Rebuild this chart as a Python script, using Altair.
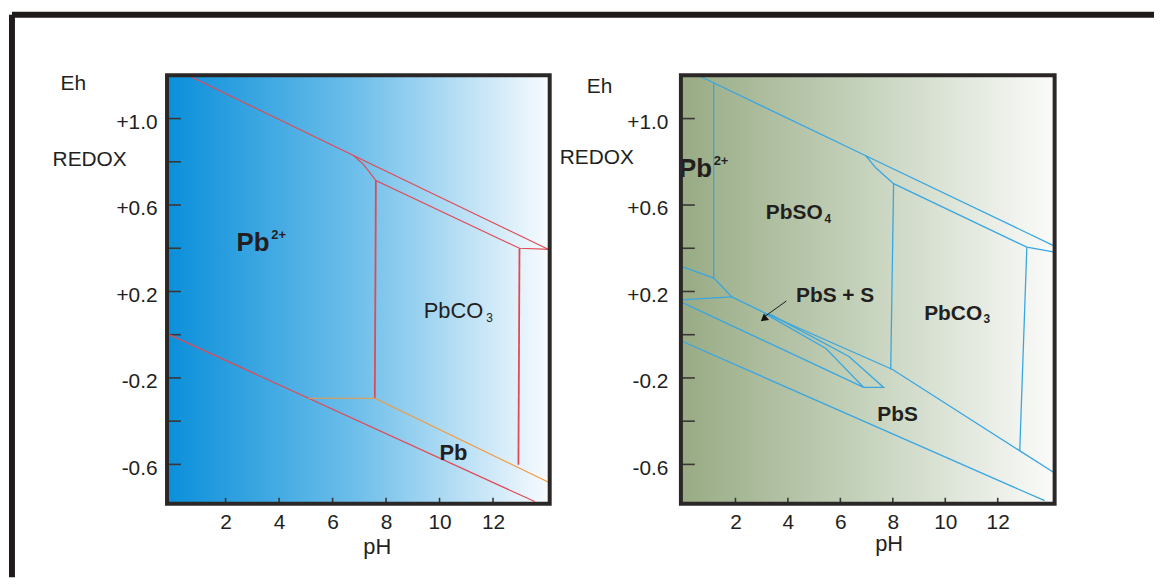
import altair as alt
import pandas as pd

FONT = "Liberation Sans"
INK = "#231f20"

# ---------------- axes ----------------
left_ph_domain = [-0.19, 14.12]
right_ph_domain = [-0.08, 14.17]
eh_domain = [-0.782, 1.2]
ph_ticks = [2, 4, 6, 8, 10, 12]
eh_ticks = [1.0, 0.8, 0.6, 0.4, 0.2, 0.0, -0.2, -0.4, -0.6]
eh_labelled = [1.0, 0.6, 0.2, -0.2, -0.6]

# ---------------- left panel: Pb - C - O - H ----------------
l_upper_ph = [0.51, 6.80, 14.12]
l_upper_eh = [1.205, 0.828, 0.392]
l_second_ph = [6.80, 7.17, 7.62, 12.99, 14.12]
l_second_eh = [0.828, 0.786, 0.713, 0.400, 0.395]
l_vert1_ph = [7.62, 7.58]
l_vert1_eh = [0.713, -0.294]
l_vert2_ph = [12.99, 12.95]
l_vert2_eh = [0.400, -0.602]
l_lower_ph = [-0.19, 13.56]
l_lower_eh = [0.005, -0.772]
l_pb_top_ph = [5.10, 7.58]
l_pb_top_eh = [-0.294, -0.294]
l_pb_slope_ph = [7.58, 14.12]
l_pb_slope_eh = [-0.294, -0.685]

l_axis_text = ["Eh", "REDOX"]
l_axis_ph = [-4.17, -4.47]
l_axis_eh = [1.159, 0.809]
l_big_text = ["Pb"]
l_big_ph = [2.41]
l_big_eh = [0.423]
l_sup_text = ["2+"]
l_sup_ph = [3.71]
l_sup_eh = [0.46]
l_plain_text = ["PbCO"]
l_plain_ph = [10.52]
l_plain_eh = [0.110]
l_sub_text = ["3"]
l_sub_ph = [11.75]
l_sub_eh = [0.078]
l_bold_text = ["Pb"]
l_bold_ph = [10.52]
l_bold_eh = [-0.547]

# ---------------- right panel: Pb - S - C - O - H ----------------
r_upper_ph = [0.49, 6.97, 14.17]
r_upper_eh = [1.205, 0.828, 0.410]
r_second_ph = [6.97, 7.35, 8.03, 13.11, 14.17]
r_second_eh = [0.828, 0.772, 0.699, 0.405, 0.382]
r_vmid_ph = [8.03, 7.92]
r_vmid_eh = [0.699, -0.161]
r_vright_ph = [13.11, 12.84]
r_vright_eh = [0.405, -0.538]
r_vleft_ph = [1.17, 1.17]
r_vleft_eh = [1.163, 0.262]
r_sulfate_ph = [-0.08, 1.17, 1.36, 1.86, 3.18, 7.99, 14.17]
r_sulfate_eh = [0.317, 0.262, 0.239, 0.175, 0.097, -0.161, -0.640]
r_shoriz_ph = [-0.08, 1.86]
r_shoriz_eh = [0.161, 0.175]
r_linec_ph = [-0.08, 6.89]
r_linec_eh = [0.152, -0.244]
r_sliver_ph = [3.10, 5.45, 6.89, 7.65, 6.33, 3.37, 3.10]
r_sliver_eh = [0.100, -0.064, -0.244, -0.244, -0.101, 0.092, 0.100]
r_lowest_ph = [-0.08, 13.79]
r_lowest_eh = [-0.028, -0.768]
r_arrow_ph = [3.94, 3.07]
r_arrow_eh = [0.156, 0.080]
r_head_ph = [3.11]
r_head_eh = [0.076]

r_axis_text = ["Eh", "REDOX"]
r_axis_ph = [-3.67, -4.70]
r_axis_eh = [1.145, 0.818]
r_big_text = ["Pb"]
r_big_ph = [-0.15]
r_big_eh = [0.768]
r_sup_text = ["2+"]
r_sup_ph = [1.17]
r_sup_eh = [0.805]
r_bold_text = ["PbSO", "PbS + S", "PbCO", "PbS"]
r_bold_ph = [4.24, 5.80, 10.30, 8.18]
r_bold_eh = [0.561, 0.179, 0.097, -0.372]
r_sub_text = ["4", "3"]
r_sub_ph = [5.40, 11.46]
r_sub_eh = [0.533, 0.074]


def seg_df(segs):
    rows = []
    for name, (ph, eh) in segs.items():
        for i, (p, e) in enumerate(zip(ph, eh)):
            rows.append({"seg": name, "i": i, "pH": p, "Eh": e})
    return pd.DataFrame(rows)


def txt_df(texts, ph, eh):
    return pd.DataFrame({"label": texts, "pH": ph, "Eh": eh})


def xenc(domain, tx, ty):
    return alt.X("pH:Q",
                 scale=alt.Scale(domain=domain, nice=False, zero=False),
                 axis=alt.Axis(values=ph_ticks, title="pH", titleX=tx, titleY=ty,
                               titleAlign="center", titleBaseline="alphabetic",
                               titleAngle=0, labelPadding=8, ticks=False,
                               domain=False, grid=False))


def yenc(pad):
    return alt.Y("Eh:Q",
                 scale=alt.Scale(domain=eh_domain, nice=False, zero=False),
                 axis=alt.Axis(values=eh_labelled, title=None,
                               labelExpr="(datum.value > 0 ? '+' : (datum.value < 0 ? '-' : '')) + format(abs(datum.value), '.1f')",
                               labelPadding=pad, labelOffset=4, ticks=False,
                               domain=False, grid=False))


def panel(domain, grad_stops, line_layers, text_layers, w, h, pad, tx, ty, extra=None):
    X = xenc(domain, tx, ty)
    Y = yenc(pad)
    box = pd.DataFrame({"pH": [domain[0]], "pH2": [domain[1]],
                        "Eh": [eh_domain[0]], "Eh2": [eh_domain[1]]})
    grad = alt.LinearGradient(gradient="linear", x1=0, x2=1, y1=0, y2=0,
                              stops=[alt.GradientStop(color=c, offset=o) for o, c in grad_stops])
    bg = alt.Chart(box).mark_rect(color=grad).encode(x=X, x2="pH2:Q", y=Y, y2="Eh2:Q")
    ytk = alt.Chart(pd.DataFrame({"Eh": eh_ticks})).mark_rule(
        color="#3a3636", strokeWidth=1.6).encode(
        y=Y, x=alt.value(0), x2=alt.value(14))
    xtk = alt.Chart(pd.DataFrame({"pH": ph_ticks})).mark_rule(
        color="#3a3636", strokeWidth=1.6).encode(
        x=X, y=alt.value(h), y2=alt.value(h - 6))
    layers = [bg, ytk, xtk]
    for df, color, sw in line_layers:
        layers.append(alt.Chart(df).mark_line(color=color, strokeWidth=sw).encode(
            x=X, y=Y, detail="seg:N", order="i:Q"))
    for df, size, weight, align in text_layers:
        layers.append(alt.Chart(df).mark_text(
            font=FONT, fontSize=size, fontWeight=weight, align=align,
            baseline="middle", color=INK).encode(x=X, y=Y, text="label:N"))
    if extra:
        layers.extend(extra(X, Y))
    border = alt.Chart(box).mark_rect(filled=False, stroke="#2b2727",
                                      strokeWidth=4).encode(x=X, x2="pH2:Q", y=Y, y2="Eh2:Q")
    layers.append(border)
    return layers


# ---------- left ----------
left_red = seg_df({
    "upper": (l_upper_ph, l_upper_eh),
    "second": (l_second_ph, l_second_eh),
    "lower": (l_lower_ph, l_lower_eh),
})
left_red_v = seg_df({
    "v1": (l_vert1_ph, l_vert1_eh),
    "v2": (l_vert2_ph, l_vert2_eh),
})
left_orange = seg_df({
    "top": (l_pb_top_ph, l_pb_top_eh),
    "slope": (l_pb_slope_ph, l_pb_slope_eh),
})

LW, LH = 385, 431
RW, RH = 376, 431


def frame(X, Y):
    one = alt.Data(values=[{"k": 1}])
    top = alt.Chart(one).mark_rule(color="#1f1b1b", strokeWidth=6).encode(
        x=alt.value(-156), x2=alt.value(993), y=alt.value(-61))
    side = alt.Chart(one).mark_rule(color="#1f1b1b", strokeWidth=6).encode(
        x=alt.value(-156), y=alt.value(-61), y2=alt.value(505))
    return [top, side]


left_layers = panel(
    left_ph_domain,
    [(0, "#0a8fda"), (0.5, "#6fbfea"), (1, "#f8fbfe")],
    [(left_red, "#e04a55", 1.2), (left_red_v, "#e04a55", 1.8), (left_orange, "#f2993e", 1.2)],
    [(txt_df(l_axis_text, l_axis_ph, l_axis_eh), 21, "normal", "left"),
     (txt_df(l_big_text, l_big_ph, l_big_eh), 26, "bold", "left"),
     (txt_df(l_sup_text, l_sup_ph, l_sup_eh), 13, "bold", "left"),
     (txt_df(l_plain_text, l_plain_ph, l_plain_eh), 22, "normal", "center"),
     (txt_df(l_sub_text, l_sub_ph, l_sub_eh), 12, "normal", "left"),
     (txt_df(l_bold_text, l_bold_ph, l_bold_eh), 22, "bold", "center")],
    LW, LH, 10, 211, 50, extra=frame)

# ---------- right ----------
right_blue = seg_df({
    "upper": (r_upper_ph, r_upper_eh),
    "second": (r_second_ph, r_second_eh),
    "vmid": (r_vmid_ph, r_vmid_eh),
    "vright": (r_vright_ph, r_vright_eh),
    "vleft": (r_vleft_ph, r_vleft_eh),
    "sulfate": (r_sulfate_ph, r_sulfate_eh),
    "shoriz": (r_shoriz_ph, r_shoriz_eh),
    "linec": (r_linec_ph, r_linec_eh),
    "sliver": (r_sliver_ph, r_sliver_eh),
    "lowest": (r_lowest_ph, r_lowest_eh),
})
arrow_df = seg_df({"arrow": (r_arrow_ph, r_arrow_eh)})
head_df = pd.DataFrame({"pH": r_head_ph, "Eh": r_head_eh})


def arrow(X, Y):
    shaft = alt.Chart(arrow_df).mark_line(color="#1a1a1a", strokeWidth=1).encode(
        x=X, y=Y, detail="seg:N", order="i:Q")
    head = alt.Chart(head_df).mark_point(shape="triangle", angle=231, filled=True,
                                         size=70, color="#111111", opacity=1).encode(x=X, y=Y)
    return [shaft, head]


right_layers = panel(
    right_ph_domain,
    [(0, "#98ab84"), (0.5, "#c6d3bd"), (1, "#fbfbfa")],
    [(right_blue, "#3aa6e0", 1.3)],
    [(txt_df(r_axis_text, r_axis_ph, r_axis_eh), 21, "normal", "left"),
     (txt_df(r_big_text, r_big_ph, r_big_eh), 26, "bold", "left"),
     (txt_df(r_sup_text, r_sup_ph, r_sup_eh), 13, "bold", "left"),
     (txt_df(r_bold_text, r_bold_ph, r_bold_eh), 21, "bold", "center"),
     (txt_df(r_sub_text, r_sub_ph, r_sub_eh), 12, "bold", "left")],
    RW, RH, 13, 209, 47, extra=arrow)

left = alt.layer(*left_layers).properties(width=LW, height=LH)
right = alt.layer(*right_layers).properties(width=RW, height=RH)

chart = alt.hconcat(left, right, spacing=132, bounds="flush").properties(
    padding={"left": 0, "top": 1, "right": 0, "bottom": 0},
    background="white",
).configure_view(stroke="transparent").configure_axis(
    labelFont=FONT, labelFontSize=21, labelColor=INK,
    titleFont=FONT, titleFontSize=22, titleFontWeight="normal", titleColor=INK,
)

chart.save("out.html", embed_options={"renderer": "svg", "actions": False})
